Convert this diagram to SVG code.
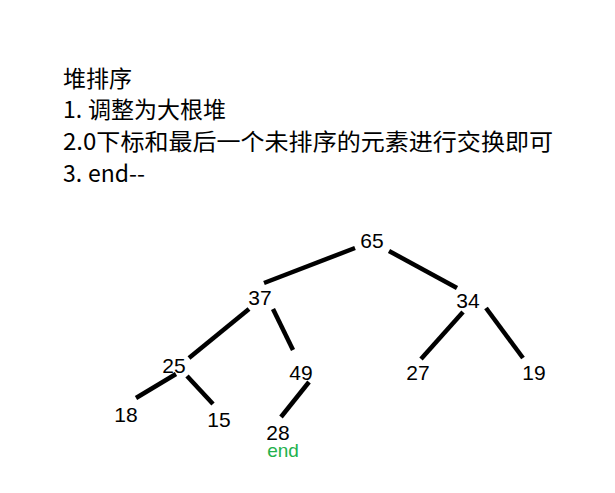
<svg xmlns="http://www.w3.org/2000/svg" width="615" height="493" viewBox="0 0 615 493">
<style>
.h{font-family:"Noto Sans CJK SC","Liberation Sans",sans-serif;font-size:23px;fill:#000}
.n{font-family:"Liberation Sans",Arial,sans-serif;font-size:21px;fill:#000;text-anchor:middle}
.e{font-family:"Liberation Sans",Arial,sans-serif;font-size:19px;fill:#22b14c;text-anchor:middle}
.c line{stroke:#000;stroke-width:4.5}
</style>
<rect width="615" height="493" fill="#fff"/>
<g id="title">
<text class="h" x="63" y="87">堆排序</text>
<text class="h" x="63" y="118">1.<tspan x="88">调整为大根堆</tspan></text>
<text class="h" x="63" y="150" textLength="490" lengthAdjust="spacingAndGlyphs">2.0下标和最后一个未排序的元素进行交换即可</text>
<text class="h" x="63" y="182">3.<tspan x="88">end--</tspan></text>
</g>
<g id="connectors" class="c">
<line x1="355" y1="248" x2="264" y2="283"/>
<line x1="389" y1="251" x2="457" y2="288"/>
<line x1="249" y1="309" x2="189" y2="358"/>
<line x1="273" y1="309" x2="293" y2="350"/>
<line x1="463" y1="312" x2="421" y2="359"/>
<line x1="486" y1="308" x2="523" y2="358"/>
<line x1="176" y1="374" x2="136" y2="398"/>
<line x1="187" y1="376" x2="213" y2="404"/>
<line x1="309" y1="382" x2="281" y2="417"/>
</g>
<g id="n65"><text class="n" x="372" y="248">65</text></g>
<g id="n37"><text class="n" x="260" y="305">37</text></g>
<g id="n34"><text class="n" x="468" y="308">34</text></g>
<g id="n25"><text class="n" x="174" y="373">25</text></g>
<g id="n49"><text class="n" x="301" y="380">49</text></g>
<g id="n27"><text class="n" x="418" y="380">27</text></g>
<g id="n19"><text class="n" x="534" y="380">19</text></g>
<g id="n18"><text class="n" x="126" y="422">18</text></g>
<g id="n15"><text class="n" x="219" y="427">15</text></g>
<g id="n28"><text class="n" x="278" y="440">28</text><text class="e" x="283" y="457">end</text></g>
</svg>
